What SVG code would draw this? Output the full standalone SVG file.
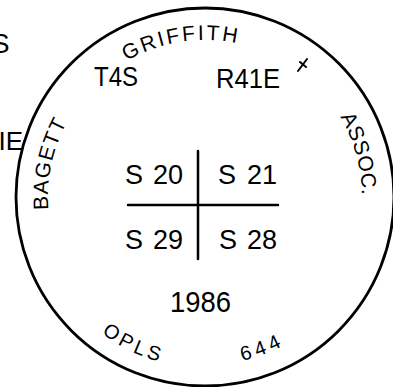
<svg xmlns="http://www.w3.org/2000/svg" width="393" height="387" viewBox="0 0 393 387">
  <style>
    .t { font-family: "Liberation Sans", Arial, sans-serif; fill: #000; }
    .big { font-size: 27px; }
    .arc { font-size: 21px; }
    .bot { font-size: 20px; }
    .ln { stroke: #000; fill: none; stroke-linecap: round; }
  </style>
  <defs>
    <path id="pGriffith" d="M126.5,61 A157,157 0 0 1 283.5,61"/>
    <path id="pAssoc" d="M340,116.9 A157,157 0 0 1 359.6,224.3"/>
    <path id="pBagett" d="M48.5,209.6 A157,157 0 0 1 104.1,76.7"/>
    <path id="pOpls" d="M101.6,333.2 A171,171 0 0 0 205,368"/>
    <path id="p644" d="M242.2,360.8 A168,168 0 0 0 350.5,281"/>
  </defs>
  <rect width="393" height="387" fill="#fff"/>

  <g id="outside-labels">
    <text class="t big" x="9.5" y="53" text-anchor="end">S</text>
    <text class="t" font-size="26" x="23" y="150" text-anchor="end">IE</text>
  </g>

  <g id="cap">
    <circle class="ln" cx="205" cy="197" r="189" stroke-width="2.8"/>
  </g>

  <g id="rim-text">
    <text class="t arc" letter-spacing="2.4"><textPath href="#pGriffith">GRIFFITH</textPath></text>
    <text class="t arc" letter-spacing="0.5"><textPath href="#pAssoc">ASSOC.</textPath></text>
    <text class="t arc" letter-spacing="1.2"><textPath href="#pBagett">BAGETT</textPath></text>
    <text class="t bot" letter-spacing="3.5"><textPath href="#pOpls">OPLS</textPath></text>
    <text class="t bot" letter-spacing="4.5"><textPath href="#p644">644</textPath></text>
  </g>

  <g id="township">
    <text class="t big" x="94" y="86" textLength="44" lengthAdjust="spacingAndGlyphs">T4S</text>
    <text class="t big" x="216" y="88" textLength="64" lengthAdjust="spacingAndGlyphs">R41E</text>
  </g>

  <g id="mark">
    <line class="ln" x1="298" y1="71" x2="307" y2="59" stroke-width="2"/>
    <line class="ln" x1="300" y1="62" x2="306" y2="67" stroke-width="2"/>
  </g>

  <g id="section-cross">
    <line class="ln" x1="198" y1="151" x2="198" y2="259" stroke-width="2.5"/>
    <line class="ln" x1="128" y1="205" x2="278" y2="205" stroke-width="2.5"/>
  </g>

  <g id="sections">
    <text class="t big" x="125" y="184">S <tspan x="153">20</tspan></text>
    <text class="t big" x="218" y="184">S <tspan x="247">21</tspan></text>
    <text class="t big" x="125" y="249">S <tspan x="153">29</tspan></text>
    <text class="t big" x="219" y="249">S <tspan x="247">28</tspan></text>
  </g>

  <g id="year">
    <text class="t" font-size="30" x="170" y="312" textLength="61" lengthAdjust="spacingAndGlyphs">1986</text>
  </g>
</svg>
